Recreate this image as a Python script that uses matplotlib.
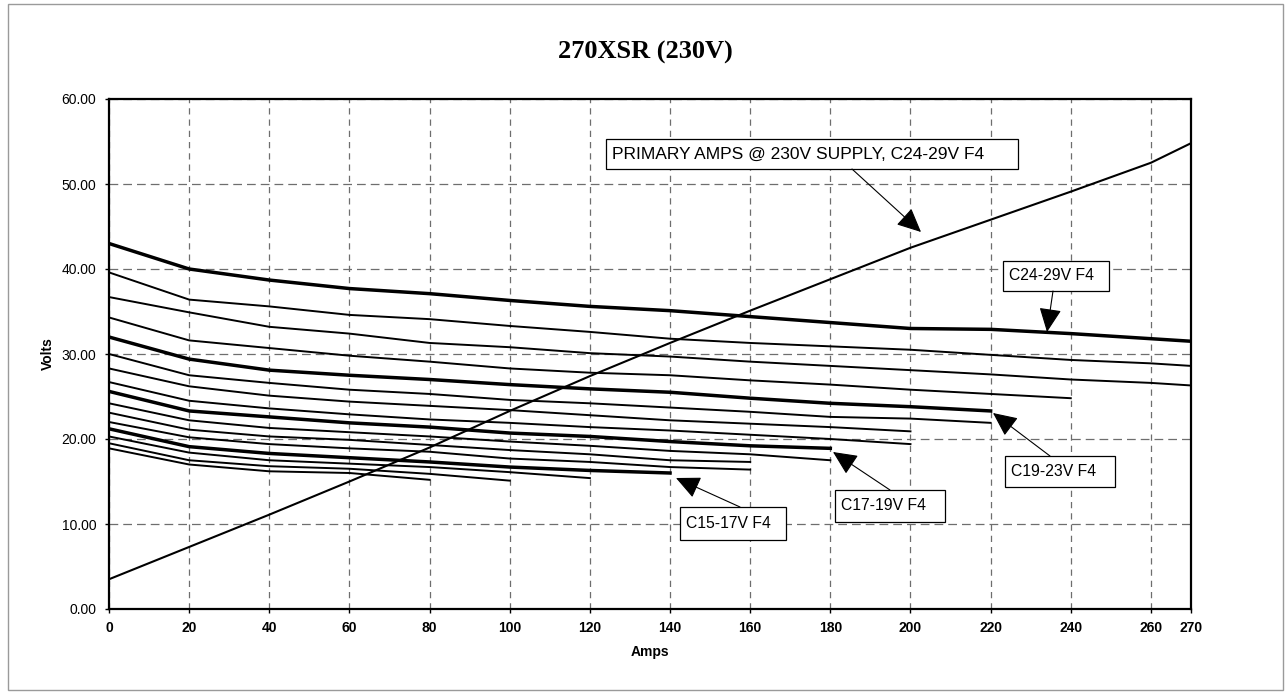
import numpy as np
import matplotlib
matplotlib.use("Agg")
import matplotlib.pyplot as plt
from matplotlib.patches import Rectangle

# ---------------- data ----------------
amps = [0, 20, 40, 60, 80, 100, 120, 140, 160, 180, 200, 220, 240, 260, 270]
x_tick_labels = ["0", "20", "40", "60", "80", "100", "120", "140", "160", "180",
                 "200", "220", "240", "260", "270"]
y_ticks = [0, 10, 20, 30, 40, 50, 60]

# C24-29V F4 group (first = heavy line)
c24_29_a = [43.0, 40.0, 38.7, 37.7, 37.1, 36.3, 35.6, 35.1, 34.4, 33.7, 33.0, 32.9, 32.4, 31.8, 31.5]
c24_29_b = [39.6, 36.4, 35.6, 34.6, 34.1, 33.3, 32.6, 31.8, 31.3, 30.9, 30.5, 29.9, 29.3, 28.9, 28.6]
c24_29_c = [36.7, 34.9, 33.2, 32.4, 31.3, 30.8, 30.1, 29.7, 29.1, 28.6, 28.1, 27.6, 27.0, 26.6, 26.3]
c24_29_d = [34.3, 31.6, 30.7, 29.8, 29.1, 28.3, 27.8, 27.5, 26.9, 26.4, 25.8, 25.3, 24.8]
# C19-23V F4 group
c19_23_a = [32.0, 29.4, 28.1, 27.5, 27.0, 26.4, 25.9, 25.5, 24.8, 24.2, 23.8, 23.3]
c19_23_b = [30.0, 27.5, 26.6, 25.8, 25.3, 24.6, 24.2, 23.7, 23.2, 22.6, 22.4, 21.9]
c19_23_c = [28.3, 26.2, 25.1, 24.4, 23.9, 23.4, 22.8, 22.2, 21.8, 21.4, 20.9]
c19_23_d = [26.7, 24.5, 23.6, 22.9, 22.3, 21.9, 21.4, 21.0, 20.5, 20.0, 19.4]
# C17-19V F4 group
c17_19_a = [25.6, 23.3, 22.6, 21.9, 21.4, 20.7, 20.3, 19.7, 19.2, 18.9]
c17_19_b = [24.2, 22.2, 21.3, 20.8, 20.3, 19.7, 19.2, 18.6, 18.2, 17.5]
c17_19_c = [23.1, 21.1, 20.3, 19.9, 19.3, 18.7, 18.2, 17.5, 17.3]
c17_19_d = [22.0, 20.2, 19.4, 18.9, 18.5, 17.7, 17.3, 16.7, 16.4]
# C15-17V F4 group
c15_17_a = [21.2, 19.1, 18.3, 17.8, 17.3, 16.7, 16.3, 16.0]
c15_17_b = [20.3, 18.4, 17.5, 17.1, 16.7, 16.1, 15.4]
c15_17_c = [19.5, 17.5, 16.8, 16.5, 15.9, 15.1]
c15_17_d = [18.9, 17.0, 16.2, 16.0, 15.2]
# Primary amps @ 230V supply (plotted on same scale)
primary_amps = [3.5, 7.3, 11.1, 15.0, 19.0, 23.3, 27.4, 31.3, 35.1, 38.8, 42.5, 45.8, 49.1, 52.5, 54.8]

heavy_series = [c24_29_a, c19_23_a, c17_19_a, c15_17_a]
thin_series = [c24_29_b, c24_29_c, c24_29_d,
               c19_23_b, c19_23_c, c19_23_d,
               c17_19_b, c17_19_c, c17_19_d,
               c15_17_b, c15_17_c, c15_17_d]

# ---------------- figure ----------------
plt.rcParams['font.family'] = ['Liberation Sans', 'DejaVu Sans']
W, H = 1288, 694
fig = plt.figure(figsize=(W / 100, H / 100), dpi=100)
fig.patch.set_facecolor('white')

# outer chart border
fig.add_artist(Rectangle((8 / W, 1 - 690 / H), (1283 - 8) / W, (690 - 4) / H,
                         transform=fig.transFigure, fill=False,
                         edgecolor='#9a9a9a', lw=1.0))

L, R, T, B = 109, 1191, 99, 609
ax = fig.add_axes([L / W, 1 - B / H, (R - L) / W, (B - T) / H])

for s in thin_series:
    ax.plot(amps[:len(s)], s, color='black', lw=1.4, solid_joinstyle='round', zorder=3)
for s in heavy_series:
    ax.plot(amps[:len(s)], s, color='black', lw=2.5, solid_joinstyle='round', zorder=4)
ax.plot(amps, primary_amps, color='black', lw=1.5, zorder=4)

ax.set_xlim(0, 270)
ax.set_ylim(0, 60)
ax.set_xticks(amps)
ax.set_xticklabels(x_tick_labels, fontsize=10, fontweight='bold')
ax.set_yticks(y_ticks)
ax.set_yticklabels(["%.2f" % v for v in y_ticks], fontsize=10)
ax.tick_params(axis='both', direction='out', length=3, width=1, color='black')
ax.tick_params(axis='x', pad=6)
ax.tick_params(axis='y', pad=6)

ax.xaxis.grid(True, color='#6e6e6e', lw=0.9, linestyle=(0, (5, 4)))
ax.yaxis.grid(True, color='#6e6e6e', lw=0.9, linestyle=(0, (7, 4)))
ax.set_axisbelow(True)
for sp in ax.spines.values():
    sp.set_color('black')
    sp.set_linewidth(1.6)

ax.set_xlabel("Amps", fontsize=10, fontweight='bold', labelpad=7)
ax.set_ylabel("Volts", fontsize=10, fontweight='bold', labelpad=5)

fig.text(645 / W, 1 - 52 / H, "270XSR (230V)", ha='center', va='center',
         fontsize=19, fontweight='bold', family=['Liberation Serif', 'DejaVu Serif'])


# ---------------- annotations ----------------
def px2d(px, py):
    return ((px - L) / (R - L) * 270.0, (B - py) / (B - T) * 60.0)


def label_box(text, x0, y0, x1, y1, start, tip, fs=11.3):
    (ax0, ay1) = px2d(x0, y0)
    (ax1, ay0) = px2d(x1, y1)
    ax.add_patch(Rectangle((ax0, ay0), ax1 - ax0, ay1 - ay0, facecolor='white',
                           edgecolor='black', lw=0.9, zorder=6, clip_on=False))
    tx, ty = px2d(x0 + 6, (y0 + y1) / 2)
    ax.text(tx, ty, text, ha='left', va='center', fontsize=fs, zorder=7)
    ax.annotate('', xy=px2d(*tip), xytext=px2d(*start),
                arrowprops=dict(arrowstyle='-|>,head_length=1.5,head_width=0.7',
                                color='black', lw=0.8, shrinkA=0, shrinkB=0),
                zorder=7)


label_box("PRIMARY AMPS @ 230V SUPPLY, C24-29V F4", 606, 139, 1018, 169,
          (852, 169), (921, 232), fs=12.5)
label_box("C24-29V F4", 1003, 261, 1109, 291, (1053, 291), (1047, 332))
label_box("C19-23V F4", 1005, 456, 1115, 487, (1050, 456), (993, 413))
label_box("C17-19V F4", 835, 490, 945, 522, (890, 490), (833, 452))
label_box("C15-17V F4", 680, 507, 786, 540, (740, 507), (676, 478))

fig.savefig("out.png", dpi=100)
